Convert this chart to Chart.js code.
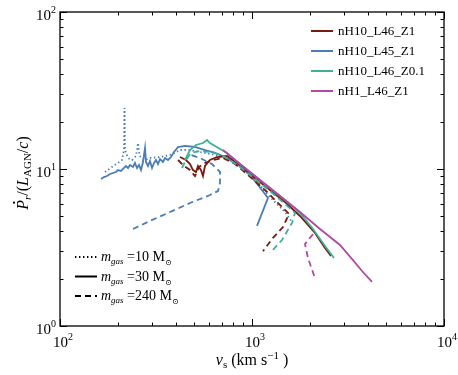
<!DOCTYPE html>
<html>
<head>
<meta charset="utf-8">
<script src="https://cdn.jsdelivr.net/npm/chart.js@4"></script>
<style>
  html, body { margin: 0; padding: 0; background: #fff; }
  #chart { display: block; }
</style>
</head>
<body>
<canvas id="chart" width="458" height="375"></canvas>
<script>
// shock velocity (km/s) and momentum boost
const blueSolidV = [163.5, 169.5, 175.7, 182.2, 188.8, 195.7, 200.5, 207.8, 215.4, 220.6, 226.1, 231.5, 240.0, 245.8, 251.8, 257.9, 264.2, 270.6, 277.2, 280.5, 287.3, 294.3, 301.5, 308.8, 316.2, 324.0, 331.8, 343.9, 352.4, 365.2, 378.5, 392.5, 411.7, 447.7, 504.9, 569.1, 641.8, 723.4, 865.9, 976.3, 1074.6, 1211.5, 1061.7];
const blueSolidP = [8.64, 8.89, 9.02, 9.29, 9.43, 9.57, 9.85, 9.71, 10.15, 10.45, 10.15, 10.60, 10.30, 10.92, 10.15, 10.60, 9.85, 11.08, 13.61, 11.08, 10.45, 11.24, 10.15, 10.92, 11.41, 10.76, 11.58, 11.08, 11.75, 11.41, 11.92, 12.83, 13.81, 14.02, 13.81, 13.21, 12.65, 11.92, 10.45, 9.16, 7.91, 6.54, 4.34];

const blueDotV = [171.5, 186.6, 200.5, 210.3, 215.4, 216.7, 218.0, 226.1, 237.1, 248.8, 254.9, 259.5, 277.2, 294.3, 331.8, 374.2, 421.7, 475.5, 536.0, 641.8, 768.3, 919.4, 1074.6, 1168.7, 1317.6, 1485.4, 1615.7];
const blueDotP = [9.57, 10.30, 10.92, 11.41, 13.21, 24.46, 13.21, 11.75, 11.41, 12.10, 14.64, 12.10, 11.41, 11.75, 11.92, 12.28, 13.21, 13.21, 12.83, 12.28, 11.41, 9.71, 8.26, 7.14, 6.16, 5.32, 4.60];

const blueDashV = [240.0, 294.3, 374.2, 475.5, 604.0, 665.3, 681.3, 681.3, 619.0, 536.0, 464.2];
const blueDashP = [4.15, 4.67, 5.32, 6.07, 6.83, 7.24, 8.14, 9.57, 10.76, 11.75, 12.46];

const brownSolidV = [421.7, 453.1, 475.5, 492.9, 510.9, 523.3, 542.3, 555.6, 569.1, 604.0, 657.3, 741.0, 865.9, 1036.6, 1241.0, 1485.4, 1778.3, 2128.7, 2400.0, 2579];
const brownSolidP = [11.92, 11.41, 10.76, 9.85, 9.57, 10.45, 9.85, 9.02, 10.45, 11.41, 11.92, 12.10, 10.60, 8.76, 7.35, 6.16, 5.02, 3.91, 3.14, 2.79];

const brownDashV = [411.7, 442.4, 475.5, 504.9, 529.7, 569.1, 626.4, 706.3, 815.8, 941.7, 1061.7, 1197.6, 1350, 1558, 1450.0, 1286.4, 1141.0];
const brownDashP = [11.41, 10.45, 9.85, 9.02, 10.30, 10.92, 11.41, 11.75, 10.76, 9.29, 8.14, 7.14, 6.16, 5.17, 4.27, 3.64, 3.00];

const tealSolidV = [447.7, 475.5, 510.9, 555.6, 583.0, 604.0, 641.8, 741.0, 865.9, 1036.6, 1241.0, 1485.4, 1778.3, 2078.3, 2400.0, 2673];
const tealSolidP = [11.41, 13.21, 14.22, 14.64, 15.30, 14.64, 14.02, 12.65, 10.76, 9.02, 7.57, 6.35, 5.25, 4.15, 3.23, 2.71];

const tealDashV = [431.9, 453.1, 481.3, 536.0, 619.0, 723.4, 865.9, 1036.6, 1241.0, 1485.4, 1675.2, 1615.7, 1433, 1241.0];
const tealDashP = [10.15, 11.41, 12.65, 13.02, 12.83, 11.92, 10.30, 8.64, 7.24, 5.99, 5.25, 4.53, 3.53, 2.92];

const magSolidV = [706.3, 865.9, 1100.7, 1398.6, 1778.3, 2260.6, 2548.6, 2872.4, 3357, 3741, 4217];
const magSolidP = [13.21, 10.76, 8.51, 6.73, 5.32, 4.15, 3.69, 3.28, 2.63, 2.24, 1.91];

const magDashV = [2078.3, 1888.0, 1957, 2128.7];
const magDashP = [3.85, 3.33, 2.71, 2.02];

const runNames = ["nH10_L46_Z1", "nH10_L45_Z1", "nH10_L46_Z0.1", "nH1_L46_Z1"];
const runColors = ["#761b0e", "#4a7db6", "#3fb096", "#b048a8"];
const massLabels = ["10", "30", "240"];

const xDecades = [100, 1000, 10000];
const yDecades = [1, 10, 100];

const SERIF = '"Liberation Serif", "DejaVu Serif", serif';
const DASH = [6, 4];
const DOT = [1.4, 2.6];

function pts(vs, ps) {
  return vs.map((v, i) => ({ x: v, y: ps[i] }));
}

function line(vs, ps, color, dash, order) {
  return {
    data: pts(vs, ps),
    borderColor: color,
    borderWidth: 1.8,
    borderDash: dash,
    showLine: true,
    pointRadius: 0,
    tension: 0,
    order: order,
  };
}

// draw a run of text pieces: [text, size, italic, dy]
function richWidth(ctx, parts) {
  let w = 0;
  parts.forEach((p) => {
    ctx.font = (p[2] ? "italic " : "") + p[1] + "px " + SERIF;
    w += ctx.measureText(p[0]).width;
  });
  return w;
}

function drawRich(ctx, parts, x, y, align) {
  let w = richWidth(ctx, parts);
  let cx = x;
  if (align === "center") cx = x - w / 2;
  if (align === "right") cx = x - w;
  ctx.textAlign = "left";
  ctx.textBaseline = "alphabetic";
  let starts = [];
  parts.forEach((p) => {
    ctx.font = (p[2] ? "italic " : "") + p[1] + "px " + SERIF;
    starts.push(cx);
    ctx.fillText(p[0], cx, y + (p[3] || 0));
    cx += ctx.measureText(p[0]).width;
  });
  return starts;
}

const frame = {
  id: "frame",
  afterDraw(chart) {
    const ctx = chart.ctx;
    const a = chart.chartArea;
    const xs = chart.scales.x;
    const ys = chart.scales.y;
    ctx.save();
    ctx.fillStyle = "#000";
    ctx.strokeStyle = "#000";

    // box
    ctx.lineWidth = 1.3;
    ctx.setLineDash([]);
    ctx.strokeRect(a.left, a.top, a.right - a.left, a.bottom - a.top);

    // ticks (inward, on all four sides)
    ctx.lineWidth = 1;
    ctx.beginPath();
    for (let d = 0; d < xDecades.length; d++) {
      for (let k = 1; k <= 9; k++) {
        let v = xDecades[d] * k;
        if (v > xDecades[xDecades.length - 1]) break;
        let px = Math.round(xs.getPixelForValue(v)) + 0.5;
        let len = k === 1 ? 7 : 3.5;
        ctx.moveTo(px, a.bottom); ctx.lineTo(px, a.bottom - len);
        ctx.moveTo(px, a.top); ctx.lineTo(px, a.top + len);
      }
    }
    for (let d = 0; d < yDecades.length; d++) {
      for (let k = 1; k <= 9; k++) {
        let v = yDecades[d] * k;
        if (v > yDecades[yDecades.length - 1]) break;
        let py = Math.round(ys.getPixelForValue(v)) + 0.5;
        let len = k === 1 ? 7 : 3.5;
        ctx.moveTo(a.left, py); ctx.lineTo(a.left + len, py);
        ctx.moveTo(a.right, py); ctx.lineTo(a.right - len, py);
      }
    }
    ctx.stroke();

    // tick labels
    xDecades.forEach((v) => {
      let px = xs.getPixelForValue(v);
      let e = String(Math.round(Math.log10(v)));
      drawRich(ctx, [["10", 15, false, 0], [e, 10, false, -7]], px + 3, a.bottom + 21, "center");
    });
    yDecades.forEach((v) => {
      let py = ys.getPixelForValue(v);
      let e = String(Math.round(Math.log10(v)));
      drawRich(ctx, [["10", 15, false, 0], [e, 10, false, -7]], a.left - 4, py + 8, "right");
    });

    // x title
    drawRich(ctx, [["v", 16, true, 0], ["s", 11, false, 3], [" (km s", 16, false, 0], ["\u22121", 11, false, -6], [" )", 16, false, 0]],
      252, 365, "center");

    // y title
    ctx.save();
    ctx.translate(28, 173);
    ctx.rotate(-Math.PI / 2);
    let yParts = [["P", 16, true, 0], ["r", 11, true, 3], ["/(", 16, false, 0], ["L", 16, true, 0],
      ["AGN", 11, false, 3], ["/", 16, false, 0], ["c", 16, true, 0], [")", 16, false, 0]];
    let st = drawRich(ctx, yParts, 0, 0, "center");
    ctx.beginPath();
    ctx.arc(st[0] + 7, -14, 1.1, 0, Math.PI * 2);
    ctx.fill();
    ctx.restore();

    // run legend (top right)
    runNames.forEach((name, i) => {
      let y = 31 + 20 * i;
      ctx.strokeStyle = runColors[i];
      ctx.lineWidth = 2;
      ctx.setLineDash([]);
      ctx.beginPath();
      ctx.moveTo(311, y); ctx.lineTo(333, y);
      ctx.stroke();
      ctx.fillStyle = "#000";
      drawRich(ctx, [[name, 13, false, 0]], 338, y + 4, "left");
    });

    // mass legend (bottom left)
    const dashes = [DOT, [], DASH];
    massLabels.forEach((m, i) => {
      let y = 257 + 19.5 * i;
      ctx.strokeStyle = "#000";
      ctx.lineWidth = 2;
      ctx.setLineDash(dashes[i]);
      ctx.beginPath();
      ctx.moveTo(75, y); ctx.lineTo(97, y);
      ctx.stroke();
      ctx.setLineDash([]);
      drawRich(ctx, [["m", 14, true, 0], ["gas", 9, true, 3], [" =" + m + " M", 14, false, 0], ["\u2299", 8, false, 4]],
        101, y + 4, "left");
    });

    ctx.restore();
  },
};

const ctx = document.getElementById("chart").getContext("2d");

new Chart(ctx, {
  type: "scatter",
  data: {
    datasets: [
      line(blueSolidV, blueSolidP, runColors[1], [], 6),
      line(blueDotV, blueDotP, runColors[1], DOT, 7),
      line(blueDashV, blueDashP, runColors[1], DASH, 8),
      line(brownSolidV, brownSolidP, runColors[0], [], 4),
      line(brownDashV, brownDashP, runColors[0], DASH, 5),
      line(tealSolidV, tealSolidP, runColors[2], [], 2),
      line(tealDashV, tealDashP, runColors[2], DASH, 3),
      line(magSolidV, magSolidP, runColors[3], [], 0),
      line(magDashV, magDashP, runColors[3], DASH, 1),
    ],
  },
  options: {
    responsive: false,
    animation: false,
    layout: { padding: { left: 60, right: 14, top: 12, bottom: 49 } },
    plugins: { legend: { display: false }, tooltip: { enabled: false } },
    scales: {
      x: { type: "logarithmic", min: 100, max: 10000, display: false },
      y: { type: "logarithmic", min: 1, max: 100, display: false },
    },
  },
  plugins: [frame],
});
</script>
</body>
</html>
